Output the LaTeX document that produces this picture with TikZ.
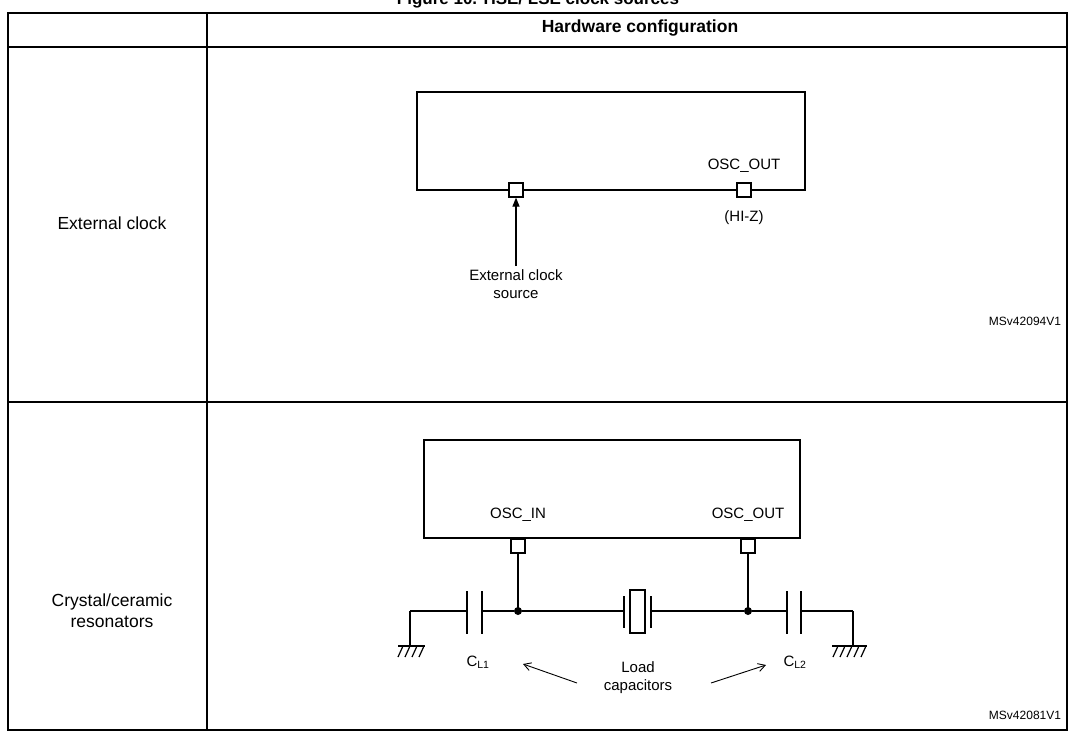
\documentclass[tikz,border=0pt]{standalone}
\usepackage{fontspec}
\setmainfont{Liberation Sans}
\usetikzlibrary{arrows.meta}
\begin{document}
\begin{tikzpicture}[x=1pt,y=-1pt,
  ln/.style={line width=1.6pt},
  pin/.style={draw,line width=1.2pt,minimum size=14pt,inner sep=0pt,fill=white},
  lab/.style={font=\fontsize{17.5}{21}\selectfont},
  sm/.style={font=\fontsize{15}{18}\selectfont,align=center},
  idlab/.style={font=\fontsize{12}{14}\selectfont},
  dot/.style={circle,fill,inner sep=0pt,minimum size=8pt}]
\useasboundingbox (0,0) rectangle (1075,733);
\begin{scope}
\clip (0,0) rectangle (1075,733);
\node[font=\bfseries\fontsize{17}{19}\selectfont,anchor=base] (title) at (538,5) {Figure 10. HSE/ LSE clock sources};
\end{scope}
% table
\draw[line width=1.6pt] (8,13) rectangle (1067,730);
\draw[line width=1.2pt] (207,13) -- (207,730);
\draw[line width=1.2pt] (8,47) -- (1067,47);
\draw[line width=1.2pt] (8,402) -- (1067,402);
\node[font=\bfseries\fontsize{17.5}{20}\selectfont] (hdr) at (640,28) {Hardware configuration};
\node[lab] (r1) at (112,223) {External clock};
\node[lab,align=center] (r2) at (112,611) {Crystal/ceramic\\resonators};
% row 1
\draw[ln] (417,92) rectangle (805,190);
\node[pin] (p1) at (516,190) {};
\node[pin] (p2) at (744,190) {};
\node[sm] (oo1) at (744,166) {OSC\_OUT};
\node[sm] (hz) at (744,218) {(HI-Z)};
\node[sm,anchor=north] (ecs) at (516,266) {External clock\\source};
\draw[line width=1.2pt,-{Triangle[length=9pt,width=7pt]}] (ecs.north) -- (p1.south);
\node[idlab] (id1) at (1025,321) {MSv42094V1};
% row 2
\draw[ln] (424,440) rectangle (800,538);
\node[pin] (q1) at (518,546) {};
\node[pin] (q2) at (748,546) {};
\node[sm] (oi) at (518,515) {OSC\_IN};
\node[sm] (oo2) at (748,515) {OSC\_OUT};
\node[dot] (d1) at (518,611) {};
\node[dot] (d2) at (748,611) {};
\draw[line width=1.2pt] (q1.south) -- (d1.center);
\draw[line width=1.2pt] (q2.south) -- (d2.center);
\coordinate (gl) at (410,611);
\coordinate (gr) at (853,611);
\draw[line width=1.2pt] (gl) -- (467,611) (482,611) -- (d1) -- (625,611) (650,611) -- (d2) -- (787,611) (801,611) -- (gr);
\draw[line width=1.2pt] (gl) -- (410,646) (gr) -- (853,646);
\draw[line width=1.2pt] (398,646) -- (425,646) (832,646) -- (867,646);
\foreach \x in {398,405,412,419} \draw[line width=1.2pt] (\x+5,646) -- (\x,657);
\foreach \x in {833,840,847,854,861} \draw[line width=1.2pt] (\x+5,646) -- (\x,657);
\draw[line width=2.8pt] (467,591) -- (467,634) (482,591) -- (482,634)
  (787,591) -- (787,634) (801,591) -- (801,634)
  (624,596) -- (624,628) (651,596) -- (651,628);
\draw[line width=1.2pt] (630,590) rectangle (645,633);
\node[sm] (cl1) at (478,662) {C\textsubscript{L1}};
\node[sm] (cl2) at (795,662) {C\textsubscript{L2}};
\node[sm] (load) at (638,678) {Load\\capacitors};
\draw[line width=0.9pt,-{Straight Barb[length=7pt,width=8pt]}] (577,683) -- (523,664);
\draw[line width=0.9pt,-{Straight Barb[length=7pt,width=8pt]}] (711,683) -- (766,665);
\node[idlab] (id2) at (1025,715) {MSv42081V1};
\end{tikzpicture}
\end{document}
